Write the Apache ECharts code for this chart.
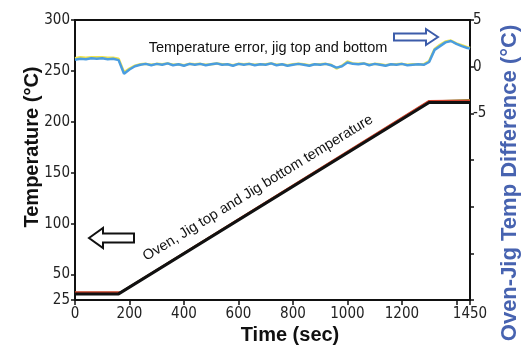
<!DOCTYPE html>
<html>
<head>
<meta charset="utf-8">
<script src="https://cdn.jsdelivr.net/npm/echarts@6/dist/echarts.min.js"></script>
<style>
  html, body { margin: 0; padding: 0; background: #fff; }
  #chart { width: 528px; height: 356px; }
</style>
</head>
<body>
<div id="chart"></div>
<script>
// 温度曲线 (左轴)
const rampTimes = [0, 160, 1300, 1450];
const ovenTemp = [31, 31, 219, 219];
const jigTopTimes = [0, 168, 1300, 1450];
const jigTopTemp = [32.5, 32.5, 220.5, 221];
const jigBottomTimes = [0, 165, 1300, 1450];
const jigBottomTemp = [32, 32, 220, 221.5];

// 温差曲线 (右轴)
const errTimes = [
  0, 20, 40, 60, 80, 100, 120, 140, 160, 180, 200, 220, 240, 260, 280, 300, 320, 340, 360, 380,
  400, 420, 440, 460, 480, 500, 520, 540, 560, 580, 600, 620, 640, 660, 680, 700, 720, 740, 760, 780,
  800, 820, 840, 860, 880, 900, 920, 940, 960, 980, 1000, 1020, 1040, 1060, 1080, 1100, 1120, 1140, 1160, 1180,
  1200, 1220, 1240, 1260, 1280, 1300, 1320, 1340, 1360, 1380, 1400, 1420, 1440, 1450
];
const errTop = [
  0.75, 0.85, 0.8, 0.9, 0.85, 0.9, 0.8, 0.85, 0.7, -0.75, -0.3, 0.05, 0.2, 0.3, 0.15, 0.3, 0.2, 0.35, 0.15, 0.25,
  0.1, 0.3, 0.2, 0.3, 0.15, 0.25, 0.35, 0.2, 0.25, 0.1, 0.3, 0.2, 0.3, 0.15, 0.25, 0.2, 0.35, 0.15, 0.25, 0.1,
  0.2, 0.3, 0.2, 0.1, 0.25, 0.2, 0.3, 0.15, -0.1, 0.05, 0.45, 0.3, 0.25, 0.35, 0.15, 0.3, 0.2, 0.1, 0.25, 0.2,
  0.3, 0.15, 0.2, 0.25, 0.2, 0.5, 1.8, 2.2, 2.6, 2.75, 2.45, 2.2, 2.0, 1.95
];
const errBottom = [
  0.9, 1.0, 0.95, 1.0, 1.0, 1.0, 0.95, 0.95, 0.85, -0.6, -0.2, 0.1, 0.25, 0.3, 0.2, 0.3, 0.25, 0.35, 0.2, 0.25,
  0.15, 0.3, 0.25, 0.3, 0.2, 0.25, 0.35, 0.25, 0.25, 0.15, 0.3, 0.25, 0.3, 0.2, 0.25, 0.25, 0.35, 0.2, 0.25, 0.15,
  0.25, 0.3, 0.25, 0.15, 0.25, 0.25, 0.3, 0.2, -0.2, 0.1, 0.55, 0.35, 0.3, 0.35, 0.2, 0.3, 0.25, 0.15, 0.25, 0.25,
  0.3, 0.2, 0.25, 0.25, 0.25, 0.6, 1.9, 2.35, 2.7, 2.8, 2.5, 2.3, 2.1, 2.0
];

// 刻度
const xLabelValues = [0, 200, 400, 600, 800, 1000, 1200, 1450];
const xTickValues = [0, 200, 400, 600, 800, 1000, 1200, 1400, 1450];
const leftTickValues = [25, 50, 100, 150, 200, 250, 300];
const rightLabelValues = [-5, 0, 5];

const pairs = (xs, ys) => xs.map((x, i) => [x, ys[i]]);
const plain = (v) => String(v);

const tickFont = '"DejaVu Sans Condensed", "Liberation Sans Narrow", "Liberation Sans", Arial, sans-serif';
const textFont = '"Liberation Sans", Arial, sans-serif';
const blueTitle = '#4763b0';

const chart = echarts.init(document.getElementById('chart'), null, { renderer: 'canvas' });

const option = {
  animation: false,
  backgroundColor: '#fff',
  grid: {
    left: 75,
    right: 58,
    top: 20,
    bottom: 56,
    show: true,
    borderColor: '#111',
    borderWidth: 2
  },
  xAxis: {
    type: 'value',
    min: 0,
    max: 1450,
    axisLine: { show: true, onZero: false, lineStyle: { color: '#111', width: 2 } },
    axisTick: { show: true, length: 5, customValues: xTickValues, lineStyle: { color: '#111', width: 1.5 } },
    axisLabel: {
      customValues: xLabelValues,
      formatter: plain,
      color: '#222',
      fontFamily: tickFont,
      fontSize: 15,
      margin: 7
    },
    splitLine: { show: false }
  },
  yAxis: [
    {
      type: 'value',
      min: 25,
      max: 300,
      axisLine: { show: true, onZero: false, lineStyle: { color: '#111', width: 2 } },
      axisTick: { show: true, length: 4, customValues: leftTickValues, lineStyle: { color: '#111', width: 1.5 } },
      axisLabel: {
        customValues: leftTickValues,
        formatter: plain,
        color: '#222',
        fontFamily: tickFont,
        fontSize: 15,
        margin: 5
      },
      splitLine: { show: false }
    },
    {
      type: 'value',
      min: -25,
      max: 5,
      interval: 5,
      position: 'right',
      axisLine: { show: true, onZero: false, lineStyle: { color: '#111', width: 2 } },
      axisTick: { show: true, length: 4, lineStyle: { color: '#111', width: 1.5 } },
      axisLabel: {
        customValues: rightLabelValues,
        formatter: plain,
        color: '#222',
        fontFamily: tickFont,
        fontSize: 15,
        margin: 3
      },
      splitLine: { show: false }
    }
  ],
  series: [
    {
      name: 'Jig bottom',
      type: 'line',
      data: pairs(jigBottomTimes, jigBottomTemp),
      showSymbol: false,
      lineStyle: { color: '#79b24a', width: 2 },
      z: 2
    },
    {
      name: 'Jig top',
      type: 'line',
      data: pairs(jigTopTimes, jigTopTemp),
      showSymbol: false,
      lineStyle: { color: '#d2412c', width: 2 },
      z: 3
    },
    {
      name: 'Oven',
      type: 'line',
      data: pairs(rampTimes, ovenTemp),
      showSymbol: false,
      lineStyle: { color: '#111', width: 3 },
      z: 4
    },
    {
      name: 'Error bottom',
      type: 'line',
      yAxisIndex: 1,
      data: pairs(errTimes, errBottom),
      showSymbol: false,
      lineStyle: { color: '#f0e44c', width: 2.5 },
      z: 5
    },
    {
      name: 'Error top',
      type: 'line',
      yAxisIndex: 1,
      data: pairs(errTimes, errTop),
      showSymbol: false,
      lineStyle: { color: '#4a9de0', width: 2.5 },
      z: 6
    }
  ],
  graphic: [
    // 轴标题
    {
      type: 'text',
      x: 32,
      y: 147,
      rotation: Math.PI / 2,
      style: { text: 'Temperature (°C)', font: 'bold 20px ' + textFont, fill: '#111', align: 'center', verticalAlign: 'middle' }
    },
    {
      type: 'text',
      x: 510,
      y: 183,
      rotation: Math.PI / 2,
      style: { text: 'Oven-Jig Temp Difference (°C)', font: 'bold 22px ' + textFont, fill: blueTitle, align: 'center', verticalAlign: 'middle' }
    },
    {
      type: 'text',
      x: 290,
      y: 335,
      style: { text: 'Time (sec)', font: 'bold 20px ' + textFont, fill: '#111', align: 'center', verticalAlign: 'middle' }
    },
    // 注释
    {
      type: 'text',
      x: 268,
      y: 48,
      style: { text: 'Temperature error, jig top and bottom', font: '14.5px ' + textFont, fill: '#111', align: 'center', verticalAlign: 'middle' }
    },
    {
      type: 'text',
      x: 258,
      y: 188,
      rotation: 31.5 * Math.PI / 180,
      style: { text: 'Oven, Jig top and Jig bottom temperature', font: '14.5px ' + textFont, fill: '#111', align: 'center', verticalAlign: 'middle' }
    },
    // 左箭头
    {
      type: 'polygon',
      shape: { points: [[89, 238], [103, 228], [103, 233.5], [134, 233.5], [134, 242.5], [103, 242.5], [103, 248]] },
      style: { fill: '#fff', stroke: '#111', lineWidth: 2 }
    },
    // 右箭头
    {
      type: 'polygon',
      shape: { points: [[438, 37], [426, 29], [426, 33.5], [394, 33.5], [394, 40.5], [426, 40.5], [426, 45]] },
      style: { fill: '#fff', stroke: '#3c5caa', lineWidth: 2 }
    }
  ]
};

chart.setOption(option);
</script>
</body>
</html>
